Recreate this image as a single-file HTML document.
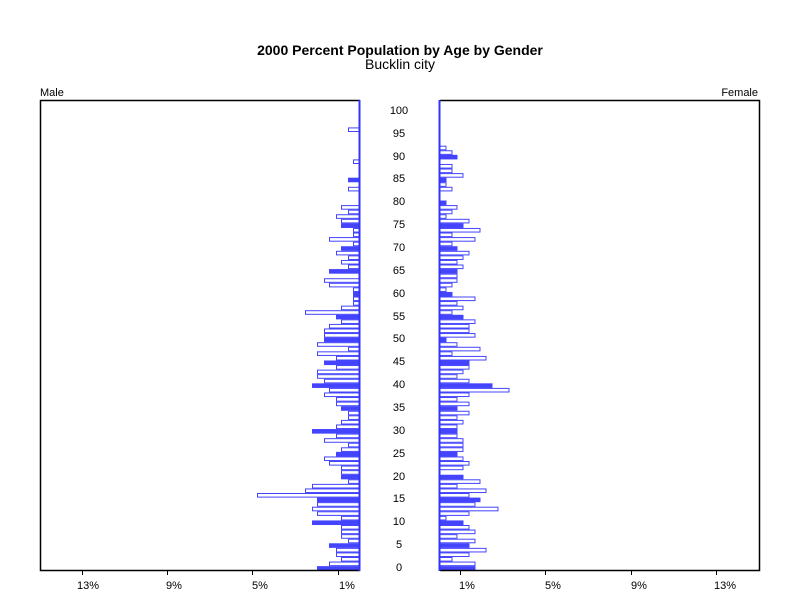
<!DOCTYPE html>
<html><head><meta charset="utf-8"><style>
html,body{margin:0;padding:0;background:#fff;}
svg{display:block;font-family:"Liberation Sans",sans-serif;}
</style></head><body>
<svg id="s" width="800" height="600" viewBox="0 0 800 600" xmlns="http://www.w3.org/2000/svg">
<rect width="800" height="600" fill="#fff"/>
<text x="400" y="55" font-size="14" text-anchor="middle" font-weight="bold" fill="#000">2000 Percent Population by Age by Gender</text>
<text x="400" y="69" font-size="14" text-anchor="middle" fill="#000">Bucklin city</text>
<text x="40" y="96" font-size="11" fill="#000">Male</text>
<text x="758" y="96" font-size="11" text-anchor="end" fill="#000">Female</text>
<g id="bars"></g>
<path d="M360,100.5 H40.5 V570.5 H360" fill="none" stroke="#000" stroke-width="1.5"/>
<path d="M440,100.5 H759.5 V570.5 H440" fill="none" stroke="#000" stroke-width="1.5"/>
<line x1="359.5" y1="100" x2="359.5" y2="571" stroke="#3333ff" stroke-width="2"/>
<line x1="439.5" y1="100" x2="439.5" y2="571" stroke="#3333ff" stroke-width="2"/>
<g stroke="#000" stroke-width="1">
<line x1="82.5" y1="570" x2="82.5" y2="575"/><line x1="167.5" y1="570" x2="167.5" y2="575"/>
<line x1="252.5" y1="570" x2="252.5" y2="575"/><line x1="338.5" y1="570" x2="338.5" y2="575"/>
<line x1="460.5" y1="570" x2="460.5" y2="575"/><line x1="545.5" y1="570" x2="545.5" y2="575"/>
<line x1="631.5" y1="570" x2="631.5" y2="575"/><line x1="716.5" y1="570" x2="716.5" y2="575"/>
</g>
<g font-size="11" fill="#000" text-anchor="middle">
<text x="88" y="589">13%</text><text x="174" y="589">9%</text><text x="260" y="589">5%</text><text x="347" y="589">1%</text>
<text x="467" y="589">1%</text><text x="553" y="589">5%</text><text x="639" y="589">9%</text><text x="725" y="589">13%</text>
</g>
<g font-size="11" fill="#000" text-anchor="middle">
<text x="399" y="571">0</text><text x="399" y="548">5</text><text x="399" y="525">10</text><text x="399" y="502">15</text>
<text x="399" y="480">20</text><text x="399" y="457">25</text><text x="399" y="434">30</text><text x="399" y="411">35</text>
<text x="399" y="388">40</text><text x="399" y="365">45</text><text x="399" y="342">50</text><text x="399" y="320">55</text>
<text x="399" y="297">60</text><text x="399" y="274">65</text><text x="399" y="251">70</text><text x="399" y="228">75</text>
<text x="399" y="205">80</text><text x="399" y="182">85</text><text x="399" y="160">90</text><text x="399" y="137">95</text>
<text x="399" y="114">100</text>
</g>
</svg>
<script>
var M={0:43,1:31,2:19,3:24,4:24,5:31,6:12,7:19,8:19,9:19,10:48,11:19,12:43,13:48,14:43,15:43,16:103,17:55,18:48,19:12,20:19,21:19,22:19,23:31,24:36,25:24,26:19,27:12,28:36,29:24,30:48,31:24,32:19,33:12,34:12,35:19,36:24,37:24,38:36,39:31,40:48,41:36,42:43,43:43,44:24,45:36,46:24,47:43,48:12,49:43,50:36,51:36,52:36,53:31,54:19,55:24,56:55,57:19,58:7,59:7,60:7,61:7,62:31,63:36,64:0,65:31,66:12,67:19,68:12,69:24,70:19,71:7,72:31,73:7,74:7,75:19,76:19,77:24,78:12,79:19,83:12,85:12,89:7,96:12};
var F={0:35,1:35,2:12,3:29,4:46,5:29,6:35,7:17,8:35,9:29,10:23,11:6,12:29,13:58,14:35,15:40,16:29,17:46,18:17,19:40,20:23,21:0,22:23,23:29,24:23,25:17,26:23,27:23,28:23,29:17,30:17,31:17,32:23,33:17,34:29,35:17,36:29,37:17,38:29,39:69,40:52,41:29,42:17,43:23,44:29,45:29,46:46,47:12,48:40,49:17,50:6,51:35,52:29,53:29,54:35,55:23,56:12,57:23,58:17,59:35,60:12,61:6,62:12,63:17,64:17,65:17,66:23,67:17,68:23,69:29,70:17,71:12,72:35,73:12,74:40,75:23,76:29,77:6,78:12,79:17,80:6,83:12,84:6,85:6,86:23,87:12,88:12,90:17,91:12,92:6};
var g=document.getElementById('bars'),ns='http://www.w3.org/2000/svg',B='#4444ff';
function r(x,y,w,h,f){var e=document.createElementNS(ns,'rect');e.setAttribute('x',x);e.setAttribute('y',y);e.setAttribute('width',w);e.setAttribute('height',h);e.setAttribute('fill',f?B:'#fff');e.setAttribute('stroke',B);e.setAttribute('stroke-width','1');g.appendChild(e);}
for(var a=0;a<=100;a++){var y=570.7-4.57*(a+1),f=(a%5==0);
var m=M[a]||0,fe=F[a]||0;
if(m>0)r(360-m+0.5,y+0.5,m-0.5,3.6,f);
if(fe>0)r(440,y+0.5,fe,3.6,f);}
</script>
</body></html>
